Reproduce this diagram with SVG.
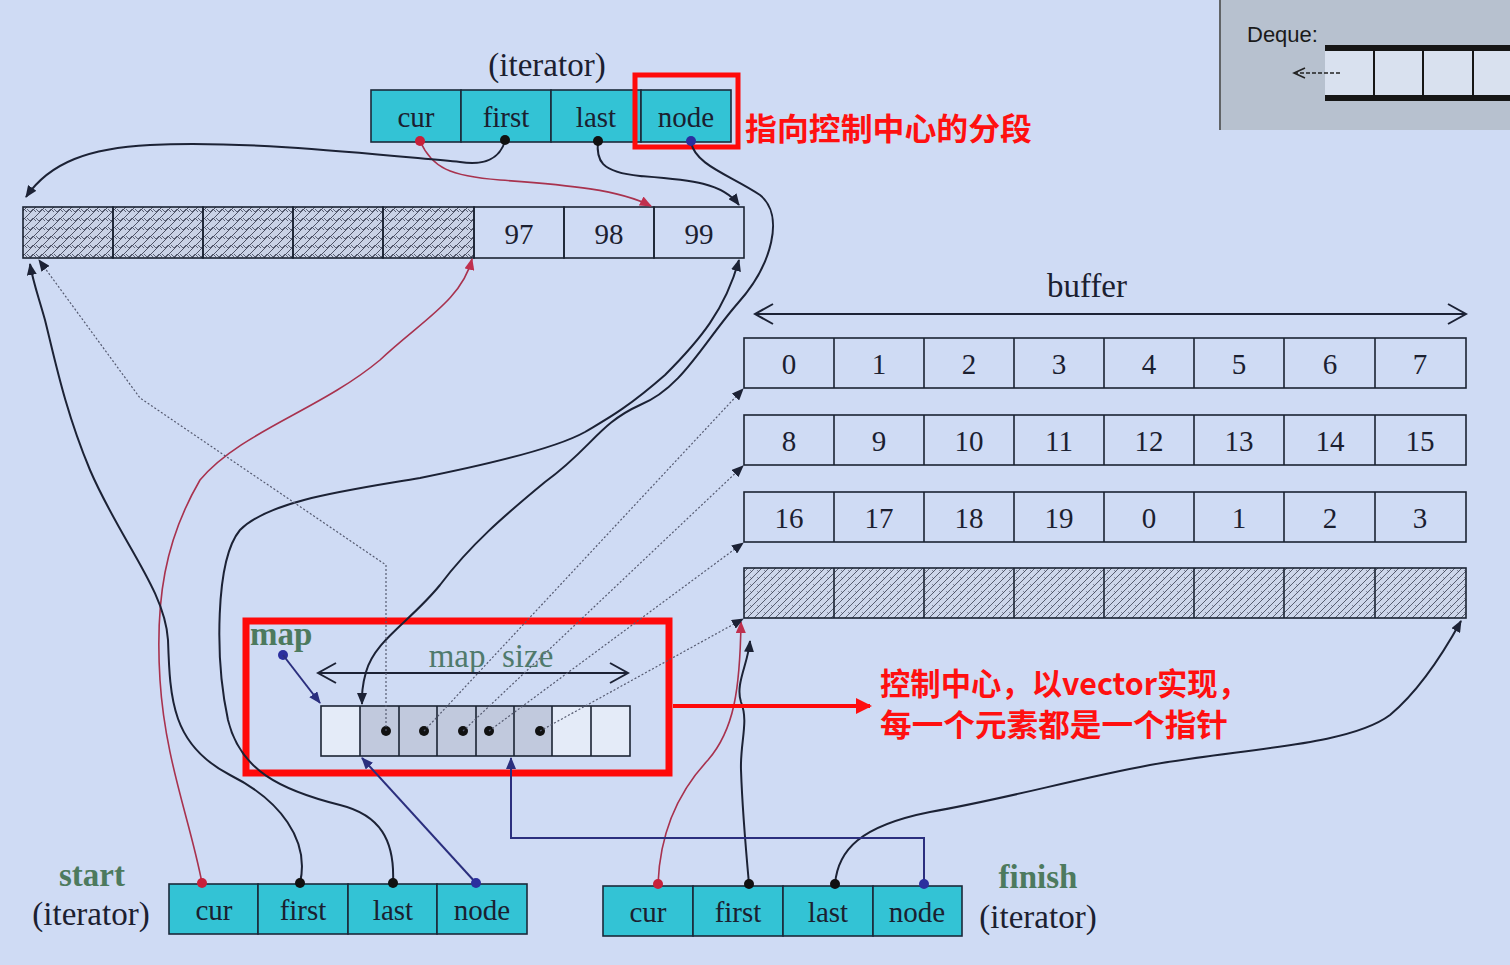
<svg xmlns="http://www.w3.org/2000/svg" width="1510" height="965" viewBox="0 0 1510 965">
<style>
.cell{fill:none;stroke:#1b2333;stroke-width:1.6}
.ic{fill:#33c3d5;stroke:#1b2a3a;stroke-width:1.6}
.num{font-family:"Liberation Serif",serif;font-size:29px;fill:#1b2030;text-anchor:middle}
.lab{font-family:"Liberation Serif",serif;font-size:33px;fill:#1b2030}
.grn{font-family:"Liberation Serif",serif;font-size:33px;font-weight:bold;fill:#4d7a5e}
.red{font-family:"Noto Sans CJK SC",sans-serif;font-size:31px;font-weight:bold;fill:#ff1010}
.blk{fill:none;stroke:#1c2235;stroke-width:2}
.rdl{fill:none;stroke:#a8324e;stroke-width:1.6}
.blu{fill:none;stroke:#2b2f7e;stroke-width:2}
.dot{fill:none;stroke:#555a70;stroke-width:1.2;stroke-dasharray:2,2}
</style>
<defs>
<pattern id="hA" width="9" height="9" patternUnits="userSpaceOnUse">
<rect width="9" height="9" fill="#c9d2e6"/>
<path d="M0,9 L9,0" stroke="#3f4458" stroke-width="0.9"/>
<path d="M0,2 L3,5 L6,2 L9,5" fill="none" stroke="#3f4458" stroke-width="0.8"/>
</pattern>
<pattern id="hB" width="7" height="7" patternUnits="userSpaceOnUse">
<rect width="7" height="7" fill="#cdd6ea"/>
<path d="M0,7 L7,0 M-2,2 L2,-2 M5,9 L9,5" stroke="#3a3f52" stroke-width="0.8"/>
<path d="M1,3 L3,5" stroke="#3a3f52" stroke-width="0.5"/>
</pattern>
<marker id="aK" markerUnits="userSpaceOnUse" markerWidth="12" markerHeight="10" refX="11" refY="5" orient="auto"><path d="M0,0 L12,5 L0,10 z" fill="#1c2235"/></marker>
<marker id="aR" markerUnits="userSpaceOnUse" markerWidth="12" markerHeight="10" refX="11" refY="5" orient="auto"><path d="M0,0 L12,5 L0,10 z" fill="#c0304e"/></marker>
<marker id="aB" markerUnits="userSpaceOnUse" markerWidth="12" markerHeight="10" refX="11" refY="5" orient="auto"><path d="M0,0 L12,5 L0,10 z" fill="#2b2f7e"/></marker>
<marker id="aRR" markerUnits="userSpaceOnUse" markerWidth="16" markerHeight="16" refX="14" refY="8" orient="auto"><path d="M0,0 L16,8 L0,16 z" fill="#ff1010"/></marker>
<marker id="ch" markerUnits="userSpaceOnUse" markerWidth="22" markerHeight="24" refX="20" refY="12" orient="auto-start-reverse"><path d="M2,2 L20,12 L2,22" fill="none" stroke="#1c2235" stroke-width="2"/></marker>
<marker id="chS" markerUnits="userSpaceOnUse" markerWidth="14" markerHeight="12" refX="12" refY="6" orient="auto"><path d="M1,1 L12,6 L1,11" fill="none" stroke="#222" stroke-width="1.6"/></marker>
</defs>
<rect width="1510" height="965" fill="#cfdbf4"/>

<g id="deque">
<rect x="1219" y="-2" width="295" height="132" fill="#b7c1cf"/>
<line x1="1220" y1="0" x2="1220" y2="130" stroke="#444" stroke-width="1.5"/>
<rect x="1325" y="51" width="190" height="44" fill="#d9e1ef"/>
<rect x="1325" y="45" width="190" height="6" fill="#161616"/>
<rect x="1325" y="95" width="190" height="6" fill="#161616"/>
<path d="M1374,51 V95 M1423,51 V95 M1473,51 V95" stroke="#161616" stroke-width="2"/>
<text x="1247" y="42" font-family="Liberation Sans,sans-serif" font-size="22" fill="#1a1a1a">Deque:</text>
<line x1="1340" y1="73" x2="1294" y2="73" stroke="#222" stroke-width="1.6" stroke-dasharray="4,2" marker-end="url(#chS)"/>
</g>

<g id="top-iterator">
<text class="lab" x="547" y="76" text-anchor="middle">(iterator)</text>
<rect class="ic" x="371" y="90" width="90" height="52"/>
<rect class="ic" x="461" y="90" width="90" height="52"/>
<rect class="ic" x="551" y="90" width="90" height="52"/>
<rect class="ic" x="641" y="90" width="90" height="52"/>
<text class="num" x="416" y="127">cur</text>
<text class="num" x="506" y="127">first</text>
<text class="num" x="596" y="127">last</text>
<text class="num" x="686" y="127">node</text>
<rect x="635" y="75" width="103" height="72" fill="none" stroke="#ff0a0a" stroke-width="5"/>
<text class="red" x="745" y="140" textLength="287" lengthAdjust="spacingAndGlyphs">指向控制中心的分段</text>
</g>

<g id="top-buffer">
<rect x="23" y="207" width="451" height="51" fill="url(#hA)"/>
<rect class="cell" x="23" y="207" width="90" height="51"/>
<rect class="cell" x="113" y="207" width="90" height="51"/>
<rect class="cell" x="203" y="207" width="90" height="51"/>
<rect class="cell" x="293" y="207" width="90" height="51"/>
<rect class="cell" x="383" y="207" width="91" height="51"/>
<rect class="cell" x="474" y="207" width="90" height="51"/>
<rect class="cell" x="564" y="207" width="90" height="51"/>
<rect class="cell" x="654" y="207" width="90" height="51"/>
<text class="num" x="519" y="244">97</text>
<text class="num" x="609" y="244">98</text>
<text class="num" x="699" y="244">99</text>
</g>

<g id="buffers">
<text class="lab" x="1087" y="297" text-anchor="middle">buffer</text>
<line x1="755" y1="314" x2="1466" y2="314" stroke="#1c2235" stroke-width="2" marker-start="url(#ch)" marker-end="url(#ch)"/>
<g id="row1">
<rect class="cell" x="744" y="338" width="722" height="50"/>
<path class="cell" d="M834,338V388M924,338V388M1014,338V388M1104,338V388M1194,338V388M1284,338V388M1375,338V388"/>
<text class="num" x="789" y="374">0</text><text class="num" x="879" y="374">1</text><text class="num" x="969" y="374">2</text><text class="num" x="1059" y="374">3</text><text class="num" x="1149" y="374">4</text><text class="num" x="1239" y="374">5</text><text class="num" x="1330" y="374">6</text><text class="num" x="1420" y="374">7</text>
</g>
<g id="row2">
<rect class="cell" x="744" y="415" width="722" height="50"/>
<path class="cell" d="M834,415V465M924,415V465M1014,415V465M1104,415V465M1194,415V465M1284,415V465M1375,415V465"/>
<text class="num" x="789" y="451">8</text><text class="num" x="879" y="451">9</text><text class="num" x="969" y="451">10</text><text class="num" x="1059" y="451">11</text><text class="num" x="1149" y="451">12</text><text class="num" x="1239" y="451">13</text><text class="num" x="1330" y="451">14</text><text class="num" x="1420" y="451">15</text>
</g>
<g id="row3">
<rect class="cell" x="744" y="492" width="722" height="50"/>
<path class="cell" d="M834,492V542M924,492V542M1014,492V542M1104,492V542M1194,492V542M1284,492V542M1375,492V542"/>
<text class="num" x="789" y="528">16</text><text class="num" x="879" y="528">17</text><text class="num" x="969" y="528">18</text><text class="num" x="1059" y="528">19</text><text class="num" x="1149" y="528">0</text><text class="num" x="1239" y="528">1</text><text class="num" x="1330" y="528">2</text><text class="num" x="1420" y="528">3</text>
</g>
<g id="row4">
<rect x="744" y="568" width="722" height="50" fill="url(#hB)"/>
<rect class="cell" x="744" y="568" width="722" height="50"/>
<path class="cell" d="M834,568V618M924,568V618M1014,568V618M1104,568V618M1194,568V618M1284,568V618M1375,568V618"/>
</g>
</g>

<g id="map">
<rect x="246" y="621" width="423" height="152" fill="none" stroke="#ff0a0a" stroke-width="7"/>
<text class="grn" x="250" y="645">map</text>
<circle cx="283" cy="655" r="5" fill="#2b2f9e"/>
<text x="491" y="667" text-anchor="middle" font-family="Liberation Serif,serif" font-size="33" fill="#4f7a6c" xml:space="preserve">map  size</text>
<line x1="318" y1="673" x2="628" y2="673" stroke="#1c2235" stroke-width="2" marker-start="url(#ch)" marker-end="url(#ch)"/>
<rect x="321" y="706" width="39" height="50" fill="#e4ebf8"/>
<rect x="360" y="706" width="192" height="50" fill="#c1c9dd"/>
<rect x="552" y="706" width="78" height="50" fill="#e4ebf8"/>
<rect class="cell" x="321" y="706" width="309" height="50"/>
<path class="cell" d="M360,706V756M399,706V756M437,706V756M476,706V756M514,706V756M552,706V756M591,706V756"/>
<circle cx="386" cy="731" r="5" fill="#111"/>
<circle cx="424" cy="731" r="5" fill="#111"/>
<circle cx="463" cy="731" r="5" fill="#111"/>
<circle cx="489" cy="731" r="5" fill="#111"/>
<circle cx="540" cy="731" r="5" fill="#111"/>
</g>

<g id="note">
<text class="red" x="880" y="695" textLength="368" lengthAdjust="spacingAndGlyphs">控制中心，以vector实现，</text>
<text class="red" x="880" y="736" textLength="348" lengthAdjust="spacingAndGlyphs">每一个元素都是一个指针</text>
</g>

<g id="start-iterator">
<text class="grn" x="92" y="886" text-anchor="middle">start</text>
<text class="lab" x="91" y="925" text-anchor="middle">(iterator)</text>
<rect class="ic" x="169" y="884" width="89" height="50"/>
<rect class="ic" x="258" y="884" width="90" height="50"/>
<rect class="ic" x="348" y="884" width="89" height="50"/>
<rect class="ic" x="437" y="884" width="90" height="50"/>
<text class="num" x="214" y="920">cur</text>
<text class="num" x="303" y="920">first</text>
<text class="num" x="393" y="920">last</text>
<text class="num" x="482" y="920">node</text>
</g>

<g id="finish-iterator">
<text class="grn" x="1038" y="888" text-anchor="middle">finish</text>
<text class="lab" x="1038" y="928" text-anchor="middle">(iterator)</text>
<rect class="ic" x="603" y="886" width="90" height="50"/>
<rect class="ic" x="693" y="886" width="90" height="50"/>
<rect class="ic" x="783" y="886" width="90" height="50"/>
<rect class="ic" x="873" y="886" width="89" height="50"/>
<text class="num" x="648" y="922">cur</text>
<text class="num" x="738" y="922">first</text>
<text class="num" x="828" y="922">last</text>
<text class="num" x="917" y="922">node</text>
</g>

<g id="connectors">
<path class="rdl" d="M420,141 C432,168 450,176 500,180 C570,185 620,190 651,206" marker-end="url(#aR)"/>
<path class="blk" d="M505,141 C500,158 485,166 460,162 C380,155 250,140 150,145 C90,148 50,162 26,197" marker-end="url(#aK)"/>
<path class="blk" d="M598,141 C596,160 600,172 640,176 C690,180 722,182 739,205" marker-end="url(#aK)"/>
<path class="blk" d="M691,142 C695,165 730,175 760,195 C785,215 772,265 738,303 C703,343 682,388 640,405 C598,424 592,448 545,482 C505,515 470,545 440,585 C410,622 375,640 366,672 C362,686 362,694 362,704" marker-end="url(#aK)"/>
<path class="rdl" d="M202,883 C190,820 165,760 160,680 C155,600 165,540 200,480 C240,432 320,410 380,360 C420,322 462,300 472,259" marker-end="url(#aR)"/>
<path class="blk" d="M300,883 C310,840 280,800 230,775 C172,745 170,700 168,640 C165,590 120,540 90,470 C65,410 55,360 45,320 C38,295 33,282 30,264" marker-end="url(#aK)"/>
<path class="blk" d="M393,883 C395,840 380,815 340,805 C280,790 240,770 228,720 C215,660 215,560 240,530 C270,500 350,490 420,478 C500,462 560,446 585,432 C605,420 625,410 665,375 C700,340 725,310 739,260" marker-end="url(#aK)"/>
<path class="blu" d="M476,883 L362,758" marker-end="url(#aB)"/>
<path class="rdl" d="M658,884 C660,830 680,790 708,760 C734,730 740,690 741,622" marker-end="url(#aR)"/>
<path class="blk" d="M749,884 C745,840 742,800 741,770 C740,742 749,722 741,702 C735,684 748,664 750,641" marker-end="url(#aK)"/>
<path class="blk" d="M835,884 C838,850 860,826 930,812 C1010,798 1070,780 1150,765 C1250,748 1350,745 1390,715 C1420,690 1445,650 1461,621" marker-end="url(#aK)"/>
<path class="blu" d="M924,884 L924,838 L511,838 L511,758" marker-end="url(#aB)"/>
<path class="blu" d="M283,655 L320,703" marker-end="url(#aB)"/>
<path class="dot" d="M386,731 L386,565 L140,398 L39,260" marker-end="url(#aK)"/>
<path class="dot" d="M424,731 L743,389" marker-end="url(#aK)"/>
<path class="dot" d="M463,731 L743,466" marker-end="url(#aK)"/>
<path class="dot" d="M489,731 L743,543" marker-end="url(#aK)"/>
<path class="dot" d="M540,731 L743,619" marker-end="url(#aK)"/>
<line x1="673" y1="706" x2="870" y2="706" stroke="#ff0a0a" stroke-width="4" marker-end="url(#aRR)"/>
<circle cx="420" cy="141" r="5" fill="#c8203a"/>
<circle cx="505" cy="140" r="5" fill="#111"/>
<circle cx="598" cy="141" r="5" fill="#111"/>
<circle cx="691" cy="141" r="5" fill="#2b2f9e"/>
<circle cx="202" cy="883" r="5" fill="#c8203a"/>
<circle cx="300" cy="883" r="5" fill="#111"/>
<circle cx="393" cy="883" r="5" fill="#111"/>
<circle cx="476" cy="883" r="5" fill="#2b2f9e"/>
<circle cx="658" cy="884" r="5" fill="#c8203a"/>
<circle cx="749" cy="884" r="5" fill="#111"/>
<circle cx="835" cy="884" r="5" fill="#111"/>
<circle cx="924" cy="884" r="5" fill="#2b2f9e"/>
</g>
</svg>
